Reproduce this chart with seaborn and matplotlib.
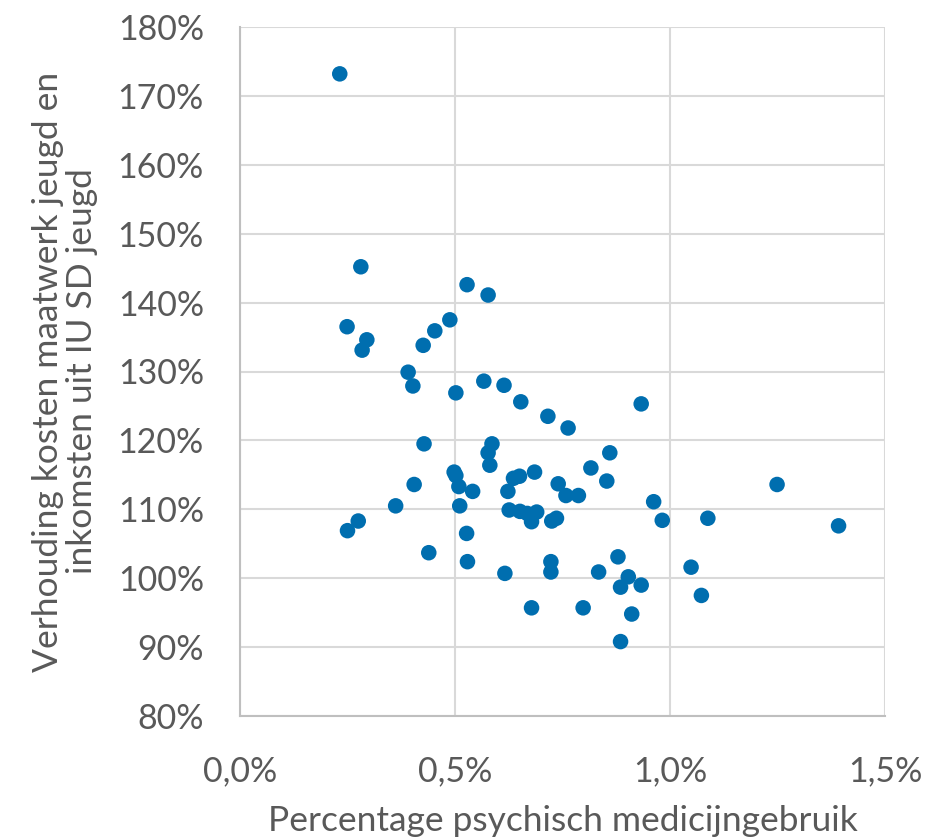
import numpy as np
import pandas as pd
import matplotlib
matplotlib.use("Agg")
import matplotlib.pyplot as plt
from matplotlib.ticker import FuncFormatter, MultipleLocator
import seaborn as sns

# psychisch medicijngebruik (%) vs verhouding kosten/inkomsten (%)
medicijn = [
    0.232, 0.281, 0.249, 0.295, 0.284, 0.453, 0.426, 0.488, 0.528, 0.577,
    0.391, 0.402, 0.502, 0.567, 0.614, 0.653, 0.716, 0.763, 0.933, 0.428,
    0.586, 0.577, 0.581, 0.498, 0.502, 0.509, 0.541, 0.405, 0.362, 0.511,
    0.636, 0.650, 0.685, 0.623, 0.740, 0.758, 0.787, 0.816, 0.860, 0.853,
    0.626, 0.651, 0.668, 0.690, 0.678, 0.725, 0.736, 0.250, 0.275, 0.527,
    0.439, 0.529, 0.616, 0.723, 0.723, 0.678, 0.798, 0.834, 0.879, 0.903,
    0.885, 0.933, 0.911, 0.885, 0.962, 0.982, 1.088, 1.049, 1.073, 1.249,
    1.392,
]
verhouding = [
    173.2, 145.2, 136.5, 134.6, 133.1, 135.9, 133.8, 137.5, 142.6, 141.1,
    129.9, 127.9, 126.9, 128.6, 128.0, 125.6, 123.5, 121.8, 125.3, 119.5,
    119.5, 118.2, 116.4, 115.4, 114.9, 113.3, 112.6, 113.6, 110.5, 110.5,
    114.5, 114.8, 115.4, 112.6, 113.7, 112.0, 112.0, 116.0, 118.2, 114.1,
    109.9, 109.7, 109.4, 109.6, 108.2, 108.3, 108.7, 106.9, 108.3, 106.5,
    103.7, 102.4, 100.7, 102.4, 100.9, 95.7, 95.7, 100.9, 103.1, 100.2,
    98.7, 99.0, 94.8, 90.8, 111.1, 108.4, 108.7, 101.6, 97.5, 113.6,
    107.6,
]

df = pd.DataFrame({"medicijn": medicijn, "verhouding": verhouding})

sns.set_theme(style="whitegrid")
plt.rcParams["font.family"] = ["Lato", "DejaVu Sans"]

grid_c = "#D9D9D9"
text_c = "#595959"

fig = plt.figure(figsize=(9.41, 8.39), dpi=100)
ax = fig.add_axes([240 / 941, 1 - 716 / 839, 645 / 941, 689 / 839])

sns.scatterplot(data=df, x="medicijn", y="verhouding", ax=ax, s=125,
                color="#006EAF", edgecolor="none", zorder=3)

ax.set_xlim(0, 1.5)
ax.set_ylim(80, 180)
ax.xaxis.set_major_locator(MultipleLocator(0.5))
ax.yaxis.set_major_locator(MultipleLocator(10))
ax.xaxis.set_major_formatter(FuncFormatter(lambda v, _: f"{v:.1f}%".replace(".", ",")))
ax.yaxis.set_major_formatter(FuncFormatter(lambda v, _: f"{v:.0f}%"))

ax.grid(True, color=grid_c, lw=1.5)
for side in ("top", "right"):
    ax.spines[side].set_visible(False)
for side in ("left", "bottom"):
    ax.spines[side].set_color("#BFBFBF")
    ax.spines[side].set_linewidth(1.5)

ax.tick_params(axis="both", labelsize=24.5, colors=text_c, length=0)
ax.tick_params(axis="x", pad=28)
ax.tick_params(axis="y", pad=26)

ax.set_xlabel("Percentage psychisch medicijngebruik", fontsize=25.5, color=text_c, labelpad=13)
ax.set_ylabel("Verhouding kosten maatwerk jeugd en\ninkomsten uit IU SD jeugd",
              fontsize=25.5, color=text_c, labelpad=14, linespacing=1.1)

fig.savefig("out.png", dpi=100)
